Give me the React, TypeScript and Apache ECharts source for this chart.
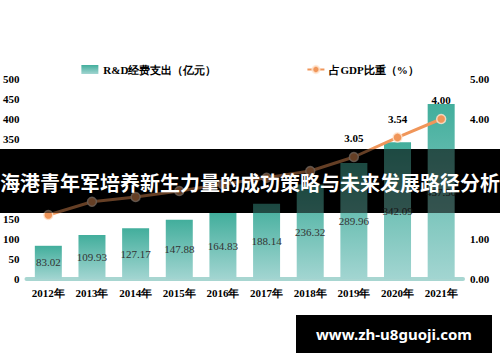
import React, { useEffect, useRef } from "react";
import * as echarts from "echarts";

const years = ["2012年", "2013年", "2014年", "2015年", "2016年", "2017年", "2018年", "2019年", "2020年", "2021年"];
const rdSpending = [83.02, 109.93, 127.17, 147.88, 164.83, 188.14, 236.32, 289.96, 342.09, 437.5];
const gdpShare = [1.6, 1.93, 2.05, 2.2, 2.37, 2.53, 2.7, 3.05, 3.54, 4.0];
const barName = "R&D经费支出（亿元）";
const lineName = "占GDP比重（%）";
const bannerTitle = "海港青年军培养新生力量的成功策略与未来发展路径分析";
const watermark = "www.zh-u8guoji.com";

export default function App() {
  const ref = useRef<HTMLDivElement>(null);
  useEffect(() => {
    if (!ref.current) return;
    const chart = echarts.init(ref.current, null, { renderer: "svg" });
    const serif = "'Liberation Serif', 'Times New Roman', serif";
    chart.setOption({
      animation: false,
      backgroundColor: "#ffffff",
      legend: {
        top: 59,
        left: "center",
        itemGap: 90,
        itemWidth: 17,
        itemHeight: 9,
        textStyle: { fontFamily: serif, fontWeight: "bold", fontSize: 11, color: "#000" },
        data: [{ name: barName, icon: "rect" }, { name: lineName }],
      },
      grid: { left: 25, right: 37, top: 79, bottom: 83, containLabel: false },
      xAxis: {
        type: "category",
        data: years,
        axisLine: { lineStyle: { color: "#a8d6d1", width: 4 } },
        axisTick: { show: false },
        axisLabel: { fontFamily: serif, fontWeight: "bold", fontSize: 11, color: "#000", margin: 8 },
      },
      yAxis: [
        {
          type: "value",
          min: 0,
          max: 500,
          interval: 50,
          splitLine: { show: false },
          axisLine: { show: false },
          axisTick: { show: false },
          axisLabel: { fontFamily: serif, fontWeight: "bold", fontSize: 11, color: "#000", margin: 7 },
        },
        {
          type: "value",
          min: 0,
          max: 5,
          interval: 1,
          splitLine: { show: false },
          axisLine: { show: false },
          axisTick: { show: false },
          axisLabel: {
            fontFamily: serif,
            fontWeight: "bold",
            fontSize: 11,
            color: "#000",
            margin: 7,
            formatter: (v: number) => v.toFixed(2),
          },
        },
      ],
      series: [
        {
          name: barName,
          type: "bar",
          data: rdSpending,
          barWidth: 27,
          itemStyle: {
            color: new echarts.graphic.LinearGradient(0, 0, 0, 1, [
              { offset: 0, color: "#42ae9c" },
              { offset: 1, color: "#a2d5d1" },
            ]),
          },
          label: {
            show: true,
            position: "inside",
            fontFamily: serif,
            fontSize: 11,
            color: "#333",
            formatter: (p: any) => p.value.toFixed(2),
          },
        },
        {
          name: lineName,
          type: "line",
          yAxisIndex: 1,
          data: gdpShare,
          symbol: "circle",
          symbolSize: 9,
          lineStyle: { color: "#f0965a", width: 3 },
          itemStyle: { color: "#f0965a", borderColor: "rgba(255,230,210,0.8)", borderWidth: 1.5 },
          label: {
            show: true,
            position: "top",
            distance: 8,
            fontFamily: serif,
            fontWeight: "bold",
            fontSize: 11,
            color: "#000",
            formatter: (p: any) => p.value.toFixed(2),
          },
          z: 3,
        },
      ],
      graphic: [
        {
          type: "rect",
          shape: { x: 0, y: 149, width: 500, height: 64 },
          style: { fill: "#000" },
          z: -10,
          silent: true,
        },
        {
          type: "rect",
          shape: { x: 0, y: 149, width: 500, height: 64 },
          style: { fill: "rgba(0,0,0,0.58)" },
          z: 100,
        },
        {
          type: "text",
          x: 250,
          y: 182,
          style: {
            text: bannerTitle,
            fill: "#fff",
            font: "bold 20px 'Noto Sans CJK SC', sans-serif",
            textAlign: "center",
            textVerticalAlign: "middle",
          },
          z: 101,
        },
        {
          type: "rect",
          shape: { x: 296, y: 315, width: 196, height: 38 },
          style: { fill: "#000" },
          z: 100,
        },
        {
          type: "text",
          x: 394,
          y: 334,
          style: {
            text: watermark,
            fill: "#fff",
            font: "bold 15px 'Noto Sans', 'DejaVu Sans', sans-serif",
            textAlign: "center",
            textVerticalAlign: "middle",
          },
          z: 101,
        },
      ],
    });
    return () => chart.dispose();
  }, []);
  return <div ref={ref} style={{ width: 500, height: 362, position: "absolute", left: 0, top: 0 }} />;
}
